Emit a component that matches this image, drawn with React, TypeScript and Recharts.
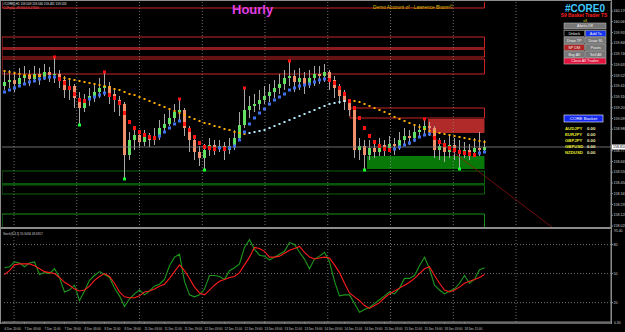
import React from 'react';
import { ComposedChart, LineChart, Line, Bar, XAxis, YAxis, ReferenceArea, ReferenceLine } from 'recharts';

const FONT = '"Liberation Sans", Arial, sans-serif';

// hourly candles, one per bar index
const firstOpen = 159.42;
const closes = [
  159.46, 159.48, 159.44, 159.5, 159.53, 159.49, 159.54, 159.51, 159.56, 159.53,
  159.54, 159.48, 159.38, 159.42, 159.3, 159.2, 159.28, 159.32, 159.36, 159.4,
  159.42, 159.34, 159.28, 159.24, 158.73, 158.88, 158.93, 158.86, 158.91, 158.88,
  158.92, 159.0, 159.04, 159.1, 159.16, 159.18, 159.0, 158.88, 158.76, 158.7,
  158.78, 158.83, 158.8, 158.82, 158.78, 158.82, 158.9, 159.03, 159.18, 159.22,
  159.24, 159.28, 159.32, 159.36, 159.4, 159.44, 159.5, 159.52, 159.46, 159.5,
  159.44, 159.5, 159.54, 159.52, 159.56, 159.48, 159.4, 159.32, 159.26, 159.18,
  158.78, 158.82, 158.73, 158.8, 158.76, 158.83, 158.78, 158.84, 158.82, 158.88,
  158.92, 158.9, 158.96, 158.98, 159.02, 159.0, 158.78, 158.82, 158.76, 158.83,
  158.78, 158.74, 158.78, 158.76, 158.8, 158.78, 158.81,
];
const highs = [
  159.56, 159.58, 159.54, 159.6, 159.62, 159.58, 159.62, 159.6, 159.64, 159.61,
  159.7, 159.58, 159.52, 159.5, 159.44, 159.36, 159.34, 159.4, 159.44, 159.5,
  159.55, 159.46, 159.38, 159.32, 159.26, 158.96, 159.0, 158.98, 158.98, 158.95,
  159.0, 159.08, 159.14, 159.2, 159.24, 159.28, 159.2, 159.02, 158.92, 158.82,
  158.84, 158.9, 158.88, 158.88, 158.86, 158.9, 158.98, 159.16, 159.39, 159.32,
  159.34, 159.38, 159.42, 159.44, 159.48, 159.54, 159.58, 159.66, 159.58, 159.6,
  159.56, 159.58, 159.62, 159.62, 159.64, 159.58, 159.52, 159.44, 159.38, 159.28,
  159.18, 158.9, 158.88, 158.88, 158.86, 158.9, 158.88, 158.92, 158.9, 158.96,
  159.0, 158.98, 159.04, 159.04, 159.08, 159.06, 159.02, 158.9, 158.88, 158.92,
  158.9, 158.88, 158.86, 158.84, 158.9, 158.96, 158.88,
];
const lows = [
  159.38, 159.4, 159.36, 159.41, 159.44, 159.42, 159.46, 159.43, 159.48, 159.46,
  159.45, 159.4, 159.3, 159.28, 159.2, 159.04, 159.16, 159.22, 159.26, 159.3,
  159.32, 159.24, 159.16, 159.12, 158.5, 158.68, 158.78, 158.8, 158.82, 158.81,
  158.83, 158.88, 158.96, 159.02, 159.06, 159.08, 158.92, 158.76, 158.68, 158.62,
  158.59, 158.72, 158.73, 158.76, 158.68, 158.74, 158.78, 158.88, 159.0, 159.1,
  159.16, 159.18, 159.24, 159.26, 159.3, 159.34, 159.38, 159.42, 159.36, 159.38,
  159.34, 159.4, 159.42, 159.44, 159.46, 159.38, 159.3, 159.24, 159.18, 159.12,
  158.7, 158.68, 158.59, 158.68, 158.7, 158.72, 158.72, 158.76, 158.73, 158.78,
  158.82, 158.83, 158.86, 158.9, 158.94, 158.92, 158.7, 158.68, 158.66, 158.7,
  158.68, 158.6, 158.7, 158.68, 158.72, 158.72, 158.76,
];
// fast trend MA (blue up / red down) and slow MA (orange down / light cyan up)
const fastMA = [
  159.36, 159.38, 159.4, 159.42, 159.44, 159.46, 159.47, 159.49, 159.5, 159.51,
  159.51, 159.49, 159.45, 159.4, 159.34, 159.28, 159.27, 159.29, 159.31, 159.33,
  159.35, 159.33, 159.3, 159.25, 159.15, 159.06, 159.0, 158.96, 158.93, 158.91,
  158.9, 158.92, 158.96, 159.0, 159.04, 159.07, 159.04, 158.98, 158.91, 158.85,
  158.81, 158.8, 158.79, 158.8, 158.79, 158.8, 158.82, 158.88, 158.96, 159.04,
  159.1, 159.15, 159.19, 159.24, 159.28, 159.31, 159.34, 159.38, 159.4, 159.42,
  159.43, 159.44, 159.46, 159.48, 159.49, 159.48, 159.45, 159.4, 159.34, 159.27,
  159.2, 159.1, 159.0, 158.92, 158.86, 158.82, 158.79, 158.78, 158.79, 158.81,
  158.83, 158.85, 158.88, 158.91, 158.93, 158.94, 158.9, 158.86, 158.83, 158.8,
  158.78, 158.76, 158.75, 158.74, 158.73, 158.75, 158.76,
];
const slowMA = [
  159.57, 159.56, 159.55, 159.54, 159.53, 159.53, 159.52, 159.52, 159.51, 159.51,
  159.51, 159.5, 159.5, 159.49, 159.48, 159.47, 159.46, 159.45, 159.44, 159.43,
  159.42, 159.41, 159.39, 159.38, 159.36, 159.34, 159.33, 159.31, 159.29, 159.27,
  159.25, 159.23, 159.21, 159.19, 159.17, 159.15, 159.13, 159.11, 159.09, 159.07,
  159.05, 159.04, 159.02, 159.01, 158.99, 158.98, 158.96, 158.95, 158.94, 158.95,
  158.96, 158.97, 158.98, 159.0, 159.02, 159.04, 159.06, 159.08, 159.1, 159.12,
  159.14, 159.16, 159.18, 159.2, 159.22, 159.24, 159.25, 159.26, 159.27, 159.28,
  159.27, 159.26, 159.24, 159.22, 159.2, 159.18, 159.16, 159.14, 159.11, 159.09,
  159.07, 159.05, 159.03, 159.01, 158.99, 158.97, 158.96, 158.95, 158.94, 158.93,
  158.92, 158.91, 158.9, 158.89, 158.88, 158.87, 158.86,
];
const swingHighs = [10, 20, 35, 48, 57, 84];
const swingLows = [15, 24, 40, 72, 91];

// stochastic sub window
const stochMain = [
  56, 57, 62, 61, 57, 61, 62, 49, 51, 50, 55, 46, 31, 33, 38, 22, 32, 43, 48, 52,
  49, 46, 35, 27, 16, 24, 29, 33, 28, 32, 37, 39, 44, 58, 67, 70, 42, 28, 26, 28,
  34, 48, 48, 47, 44, 53, 56, 60, 77, 85, 75, 69, 68, 64, 67, 70, 73, 82, 80, 72,
  65, 55, 65, 68, 72, 62, 42, 27, 28, 28, 19, 10, 13, 15, 19, 23, 27, 31, 29, 35,
  45, 45, 48, 58, 67, 55, 38, 33, 29, 32, 34, 40, 48, 40, 44, 54, 56,
];
const stochSignal = [
  49, 53, 59, 60, 60, 60, 58, 55, 52, 51, 50, 46, 41, 38, 34, 32, 33, 37, 43, 47,
  50, 47, 40, 31, 26, 25, 25, 27, 31, 32, 34, 37, 39, 45, 52, 59, 53, 45, 36, 30,
  28, 33, 38, 42, 44, 46, 47, 51, 59, 67, 77, 76, 73, 67, 67, 68, 71, 74, 76, 78,
  72, 67, 65, 66, 67, 66, 59, 51, 40, 30, 26, 22, 17, 14, 17, 20, 25, 29, 32, 35,
  38, 41, 45, 50, 55, 57, 48, 40, 33, 31, 33, 36, 40, 42, 44, 46, 49,
];
const stochLevels = [80, 50, 20];

const timeLabels = [
  '6 Dec 20:00', '7 Dec 03:00', '7 Dec 11:00', '7 Dec 19:00', '8 Dec 03:00', '8 Dec 11:00',
  '8 Dec 19:00', '11 Dec 03:00', '11 Dec 11:00', '11 Dec 19:00', '12 Dec 03:00', '12 Dec 11:00',
  '12 Dec 19:00', '13 Dec 03:00', '13 Dec 11:00', '13 Dec 19:00', '14 Dec 03:00', '14 Dec 11:00',
  '14 Dec 19:00', '15 Dec 03:00', '15 Dec 11:00', '15 Dec 19:00', '18 Dec 03:00', '18 Dec 11:00',
];
const labelEvery = 4;
const gridBars = [1.9, 14.45, 27, 39.55, 52.1, 64.65, 77.2, 89.75, 102.3];

const priceTicks = [
  160.17, 160.063, 159.955, 159.848, 159.74, 159.633, 159.525, 159.418, 159.31, 159.203,
  159.095, 158.988, 158.773, 158.665, 158.558, 158.45, 158.343, 158.235, 158.128, 158.02,
];
const bid = 158.81;

// levels drawn by the zone indicator
const resistanceBoxes = [[160.2, 160.3], [159.8, 159.91], [159.71, 159.79], [159.54, 159.69]];
const resistanceBand = [159.78, 159.81];
const supportBoxes = [[158.44, 158.57], [158.34, 158.43], [158.0, 158.14]];
const supportBand = [158.43, 158.45];
const sellZone = { from: 84.7, to: 96, lo: 158.95, hi: 159.09 };
const sellLimit = { from: 69.1, to: 96, lo: 159.1, hi: 159.2 };
const buyZone = { from: 72.5, to: 96, lo: 158.59, hi: 158.72 };
const trendLine = [{ x: 84.7, y: 158.95 }, { x: 109.7, y: 158.0 }];

const basketPairs = ['AUDJPY', 'EURJPY', 'GBPJPY', 'GBPUSD', 'NZDUSD'];

const rows: any[] = [];
let slowUp = false;
closes.forEach((c, i) => {
  if (i > 0 && slowMA[i] !== slowMA[i - 1]) slowUp = slowMA[i] > slowMA[i - 1];
  rows.push({
    i,
    open: i === 0 ? firstOpen : closes[i - 1],
    close: c,
    high: highs[i],
    low: lows[i],
    range: [lows[i], highs[i]],
    fast: fastMA[i],
    fastUp: i === 0 || fastMA[i] >= fastMA[i - 1],
    slow: slowMA[i],
    slowUp,
    peak: swingHighs.includes(i) ? highs[i] : null,
    trough: swingLows.includes(i) ? lows[i] : null,
    k: stochMain[i],
    d: stochSignal[i],
  });
});

const X_DOMAIN = [-0.5, 121.3];

const Candle = (props: any) => {
  const { x, y, width, height, payload } = props;
  const { open, close, high, low } = payload;
  const span = high - low || 1;
  const py = (v: number) => y + ((high - v) / span) * height;
  const top = py(Math.max(open, close));
  const bot = py(Math.min(open, close));
  const up = close >= open;
  const mid = x + width / 2;
  return (
    <g>
      <line x1={mid} x2={mid} y1={y} y2={y + height} stroke="#a9a9a9" strokeWidth={1} />
      <rect x={x} y={top} width={width} height={Math.max(bot - top, 1)} fill={up ? '#62e062' : '#f2906c'} />
    </g>
  );
};

const FastDot = (p: any) => {
  const { cx, cy, payload, index } = p;
  if (cy == null) return <g key={`f${index}`} />;
  const up = payload.fastUp;
  return (
    <rect key={`f${index}`} x={cx - 1.5} y={cy - (up ? 1.5 : 2)} width={3} height={up ? 3 : 4}
      fill={up ? '#3f70ee' : '#ff1414'} />
  );
};

const SlowDot = (p: any) => {
  const { cx, cy, payload, index } = p;
  if (cy == null) return <g key={`s${index}`} />;
  return <rect key={`s${index}`} x={cx - 1} y={cy - 1} width={2} height={2} fill={payload.slowUp ? '#b4ecff' : '#ffae00'} />;
};

const markDot = (color: string, dy: number) => (p: any) => {
  const { cx, cy, index, value } = p;
  if (value == null || cy == null) return <g key={`m${index}`} />;
  return <rect key={`m${index}`} x={cx - 1.5} y={cy - 1.5 + dy} width={3} height={3} fill={color} />;
};

const BidLabel = (props: any) => {
  const { viewBox } = props;
  const x = viewBox.x + viewBox.width + 1;
  return (
    <g>
      <rect x={x} y={viewBox.y - 2.5} width={13} height={5} fill="#ffffff" />
      <text x={x + 1} y={viewBox.y + 1.3} fontSize={3.6} fill="#000">{bid.toFixed(3)}</text>
    </g>
  );
};

const TimeTick = (props: any) => {
  const { x, y, payload } = props;
  const label = timeLabels[Math.round(payload.value / labelEvery)];
  return <text x={x} y={y + 4} fontSize={3} fill="#cfcfcf" textAnchor="start">{label}</text>;
};

const Button = ({ x, y, w, label, bg, fg = '#f0f0f0' }: any) => (
  <g>
    <rect x={x} y={y} width={w} height={6} fill={bg} stroke="#b4b4b4" strokeWidth={0.6} />
    <text x={x + w / 2} y={y + 4.4} fontSize={3.8} fill={fg} textAnchor="middle">{label}</text>
  </g>
);

const Overlay = () => (
  <svg width={625} height={332} style={{ position: 'absolute', left: 0, top: 0, pointerEvents: 'none' }} fontFamily={FONT}>
    <rect x={0} y={0} width={611} height={1} fill="#8c8c8c" />
    <rect x={0} y={0} width={1} height={324} fill="#8c8c8c" />
    <rect x={0} y={227} width={612} height={2} fill="#8c8c8c" />
    <rect x={0} y={322.5} width={612} height={1.2} fill="#8c8c8c" />
    <rect x={611} y={0} width={1} height={324} fill="#8c8c8c" />

    <text x={3} y={5} fontSize={3} fill="#e6e6e6">#CORE0,H1  159.509 159.560 159.481 159.533</text>
    <text x={3} y={9} fontSize={3} fill="#ff5a5a">CCFp(4) -49.6514 0.27100</text>
    <text x={232} y={14} fontSize={13} fontWeight="bold" fill="#e23ee6">Hourly</text>
    <text x={373} y={8.6} fontSize={4.8} fill="#d6c400">Demo Account of - Lawrence Bloom©</text>

    <text x={565} y={12} fontSize={10} fontWeight="bold" fill="#3ec8ff">#CORE0</text>
    <text x={584} y={17.2} fontSize={4.8} fontWeight="bold" fill="#ff2020" textAnchor="middle">S9 Basket Trader TS</text>
    <text x={585} y={21.8} fontSize={3.4} fill="#e8e800" textAnchor="middle">v3</text>
    <Button x={564} y={23} w={42} label="Alerts Off" bg="#777777" />
    <Button x={564} y={30.5} w={20.5} label="Unlock" bg="#000000" />
    <Button x={585.5} y={30.5} w={20.5} label="Add To" bg="#1434f2" />
    <Button x={564} y={37.5} w={20.5} label="Draw TP" bg="#777777" />
    <Button x={585.5} y={37.5} w={20.5} label="Draw SL" bg="#777777" />
    <Button x={564} y={44.5} w={20.5} label="SP DM" bg="#b02424" />
    <Button x={585.5} y={44.5} w={20.5} label="Pivots" bg="#777777" />
    <Button x={564} y={51.5} w={20.5} label="Buy All" bg="#777777" />
    <Button x={585.5} y={51.5} w={20.5} label="Sell All" bg="#777777" />
    <Button x={564} y={58} w={42} label="Close All Trades" bg="#e2143e" />

    <rect x={564} y={115} width={39} height={7} fill="#1428f0" stroke="#ffffff" strokeWidth={0.6} />
    <text x={583.5} y={120} fontSize={4.4} fill="#ffffff" textAnchor="middle">CORE Basket</text>
    {basketPairs.map((p, k) => (
      <g key={p}>
        <text x={565} y={129.5 + k * 6} fontSize={4.3} fontWeight="bold" fill="#e6e628">{p}</text>
        <text x={587} y={129.5 + k * 6} fontSize={4.3} fontWeight="bold" fill="#ececb0">0.00</text>
      </g>
    ))}

    <text x={3} y={235} fontSize={3} fill="#d0d0d0">Stoch(8,3,3) 55.9434 48.6917</text>
    <text x={614} y={232} fontSize={3.4} fill="#d0d0d0">95.40</text>
    <text x={614} y={324} fontSize={3.4} fill="#d0d0d0">0.30</text>
  </svg>
);

const App = () => {
  return (
    <div style={{ position: 'absolute', left: 0, top: 0, width: 625, height: 332, background: '#000', overflow: 'hidden', fontFamily: FONT }}>
      <div style={{ position: 'absolute', left: 0, top: 0 }}>
        <ComposedChart width={625} height={230} data={rows} margin={{ top: 2, right: 0, bottom: 2, left: 2 }}>
          <XAxis dataKey="i" type="number" domain={X_DOMAIN} allowDataOverflow hide />
          <YAxis orientation="right" width={14} domain={[158.0, 160.26]} allowDataOverflow ticks={priceTicks}
            interval={0} tickFormatter={(v: number) => v.toFixed(3)} tick={{ fontSize: 3.6, fill: '#d2d2d2' }}
            tickSize={2} tickMargin={0.5} axisLine={{ stroke: '#8c8c8c' }} tickLine={{ stroke: '#8c8c8c' }} />
          {gridBars.map((g) => (
            <ReferenceLine key={`g${g}`} x={g} stroke="#8a8a8a" strokeDasharray="1 2" strokeWidth={0.8} />
          ))}
          {resistanceBoxes.map(([lo, hi], k) => (
            <ReferenceArea key={`r${k}`} x1={-0.5} x2={96} y1={lo} y2={hi} fill="none" stroke="#e02828"
              strokeWidth={0.9} ifOverflow="hidden" />
          ))}
          <ReferenceArea x1={-0.5} x2={96} y1={resistanceBand[0]} y2={resistanceBand[1]} fill="#8e1c1c" fillOpacity={1} ifOverflow="hidden" />
          {supportBoxes.map(([lo, hi], k) => (
            <ReferenceArea key={`s${k}`} x1={-0.5} x2={96} y1={lo} y2={hi} fill="none"
              stroke={k === 2 ? '#1ea01e' : '#0c6e0c'} strokeWidth={0.9} ifOverflow="hidden" />
          ))}
          <ReferenceArea x1={-0.5} x2={96} y1={supportBand[0]} y2={supportBand[1]} fill="#0a560a" fillOpacity={1} ifOverflow="hidden" />
          <ReferenceArea x1={sellLimit.from} x2={sellLimit.to} y1={sellLimit.lo} y2={sellLimit.hi} fill="none"
            stroke="#e02828" strokeWidth={0.9} ifOverflow="hidden" />
          <ReferenceArea x1={sellZone.from} x2={sellZone.to} y1={sellZone.lo} y2={sellZone.hi} fill="#b02a2a"
            fillOpacity={1} ifOverflow="hidden" />
          <ReferenceArea x1={buyZone.from} x2={buyZone.to} y1={buyZone.lo} y2={buyZone.hi} fill="#087808"
            fillOpacity={1} ifOverflow="hidden" />
          <ReferenceLine y={bid} stroke="#8c8c8c" strokeWidth={0.8} label={BidLabel} />
          <ReferenceLine segment={trendLine} stroke="#a01212" strokeWidth={0.7} ifOverflow="hidden" />
          <Bar dataKey="range" barSize={3} shape={Candle} isAnimationActive={false} />
          <Line dataKey="slow" stroke="none" dot={SlowDot} activeDot={false} isAnimationActive={false} />
          <Line dataKey="fast" stroke="none" dot={FastDot} activeDot={false} isAnimationActive={false} />
          <Line dataKey="peak" stroke="none" dot={markDot('#ff1010', -1)} activeDot={false} isAnimationActive={false} />
          <Line dataKey="trough" stroke="none" dot={markDot('#18ff30', 1)} activeDot={false} isAnimationActive={false} />
        </ComposedChart>
      </div>
      <div style={{ position: 'absolute', left: 0, top: 229 }}>
        <LineChart width={625} height={103} data={rows} margin={{ top: 1, right: 0, bottom: 0, left: 2 }}>
          <XAxis dataKey="i" type="number" domain={X_DOMAIN} allowDataOverflow height={10}
            ticks={timeLabels.map((_, k) => k * labelEvery)} interval={0} tick={TimeTick}
            tickSize={1.5} axisLine={{ stroke: '#8c8c8c' }} tickLine={{ stroke: '#8c8c8c' }} />
          <YAxis orientation="right" width={14} domain={[0, 95]} allowDataOverflow ticks={stochLevels} interval={0}
            tick={{ fontSize: 3.6, fill: '#d2d2d2' }} tickSize={2} tickMargin={0.5}
            axisLine={{ stroke: '#8c8c8c' }} tickLine={{ stroke: '#8c8c8c' }} />
          {gridBars.map((g) => (
            <ReferenceLine key={`sg${g}`} x={g} stroke="#8a8a8a" strokeDasharray="1 2" strokeWidth={0.8} />
          ))}
          {stochLevels.map((v) => (
            <ReferenceLine key={`lv${v}`} y={v} stroke="#8a8a8a" strokeDasharray="1 2" strokeWidth={0.8} />
          ))}
          <Line dataKey="k" stroke="#1c981c" strokeWidth={1.1} dot={false} activeDot={false} isAnimationActive={false} />
          <Line dataKey="d" stroke="#ff1c1c" strokeWidth={1.1} dot={false} activeDot={false} isAnimationActive={false} />
        </LineChart>
      </div>
      <Overlay />
    </div>
  );
};

export default App;
